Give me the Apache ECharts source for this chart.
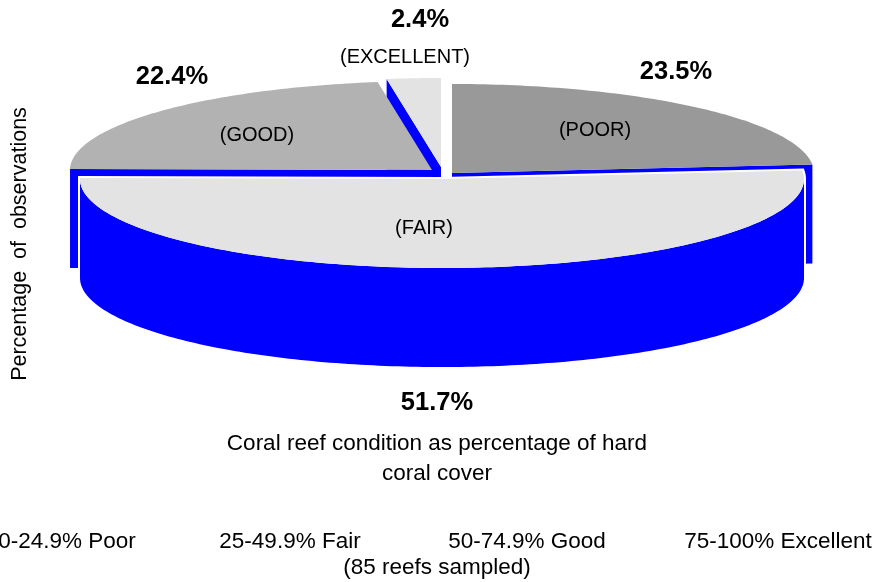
<!DOCTYPE html>
<html><head><meta charset="utf-8">
<script src="https://cdn.jsdelivr.net/npm/echarts@6/dist/echarts.min.js"></script>
<style>html,body{margin:0;padding:0;background:#fff}#c{width:876px;height:582px}</style>
</head><body><div id="c"></div>
<script>
// ---- data ----
const categories = ['POOR', 'FAIR', 'GOOD', 'EXCELLENT'];
const shares = [23.5, 51.7, 22.4, 2.4];
const rangeLabels = ['0-24.9% Poor', '25-49.9% Fair', '50-74.9% Good', '75-100% Excellent'];
const yTitle = 'Percentage  of  observations';
const xTitle = ['Coral reef condition as percentage of hard', 'coral cover'];
const footnote = '(85 reefs sampled)';

// ---- layout / style ----
const PIE = { cx: 441, cy: 170, rx: 362, ry: 89, depth: 99 };
const WALL = '#0000ff';
const sliceStyle = {
  POOR:      { color: '#999999', dx: 11, dy: 3,  pct: [676, 72],  cat: [595, 130] },
  FAIR:      { color: '#e3e3e3', dx: 1,  dy: 9,  pct: [437, 403], cat: [424, 228] },
  GOOD:      { color: '#b2b2b2', dx: -9, dy: 0,  pct: [172, 77],  cat: [257, 135] },
  EXCELLENT: { color: '#e3e3e3', dx: 0,  dy: -3, pct: [420, 20],  cat: [405, 57] }
};
const rangePos = [[67, 542], [290, 542], [527, 542], [778, 542]];
const REG = '"Liberation Sans", Arial, sans-serif';
const BOLD = 'bold 25.5px "Liberation Sans", Arial, sans-serif';

const total = shares.reduce((a, b) => a + b, 0);
const starts = []; let acc = 0; shares.forEach(v => { starts.push(acc); acc += v; });

function pt(c, a, off) {
  const r = a * Math.PI / 180;
  return [c[0] + PIE.rx * Math.sin(r), c[1] - PIE.ry * Math.cos(r) + (off || 0)];
}
function arc(c, a0, a1, off) {
  const n = Math.max(2, Math.ceil(Math.abs(a1 - a0)));
  const out = [];
  for (let k = 0; k <= n; k++) out.push(pt(c, a0 + (a1 - a0) * k / n, off));
  return out;
}
function txt(text, x, y, font, z2, rot) {
  return { type: 'text', x: x, y: y, rotation: rot || 0, z2: z2 || 20, silent: true,
    style: { text: text, font: font, fill: '#000', textAlign: 'center', textVerticalAlign: 'middle', align: 'center', verticalAlign: 'middle' } };
}

function renderItem(params, api) {
  const i = params.dataIndex;
  const v = api.value(0);
  const a0 = starts[i] / total * 360, a1 = (starts[i] + v) / total * 360;
  const st = sliceStyle[categories[i]];
  const c = [PIE.cx + st.dx, PIE.cy + st.dy];
  const H = PIE.depth;
  const mid = (a0 + a1) / 2;
  const front = mid > 90 && mid < 270;
  const zb = front ? 3 : 0;
  const ch = [];
  const faces = [];
  // radial cut faces that face the viewer
  [[a0, -90], [a1, 90]].forEach(function (p) {
    const nrm = (p[0] + p[1]) * Math.PI / 180;
    if (Math.cos(nrm) < -1e-3) {
      faces.push([c, pt(c, p[0]), pt(c, p[0], H), [c[0], c[1] + H]]);
    }
  });
  // outer wall (front half only)
  const lo = Math.max(a0, 90), hi = Math.min(a1, 270);
  if (hi > lo) faces.push(arc(c, lo, hi).concat(arc(c, lo, hi, H).reverse()));
  const top = [c].concat(arc(c, a0, a1));
  if (front) {
    faces.concat([top]).forEach(function (pts) {
      ch.push({ type: 'polygon', z2: zb, shape: { points: pts }, style: { fill: '#fff', stroke: '#fff', lineWidth: 4 } });
    });
  }
  faces.forEach(function (pts) {
    ch.push({ type: 'polygon', z2: zb + 1, shape: { points: pts }, style: { fill: WALL } });
  });
  ch.push({ type: 'polygon', z2: zb + 2, shape: { points: top }, style: { fill: st.color } });
  ch.push(txt(v.toFixed(1) + '%', st.pct[0], st.pct[1], BOLD));
  ch.push(txt('(' + categories[i] + ')', st.cat[0], st.cat[1], '20px ' + REG));
  return { type: 'group', children: ch };
}

const chart = echarts.init(document.getElementById('c'), null, { renderer: 'canvas' });
const graphics = [];
graphics.push(txt(yTitle, 20, 244, '21.5px ' + REG, 20, Math.PI / 2));
graphics.push(txt(xTitle[0], 437, 444, '22.5px ' + REG));
graphics.push(txt(xTitle[1], 437, 474, '22.5px ' + REG));
rangeLabels.forEach(function (t, k) { graphics.push(txt(t, rangePos[k][0], rangePos[k][1], '22.5px ' + REG)); });
graphics.push(txt(footnote, 437, 568, '22.5px ' + REG));

chart.setOption({
  animation: false,
  backgroundColor: '#fff',
  graphic: graphics,
  series: [{
    type: 'custom',
    coordinateSystem: 'none',
    silent: true,
    renderItem: renderItem,
    data: shares.map(function (v, k) { return [v, k]; })
  }]
});
</script></body></html>
